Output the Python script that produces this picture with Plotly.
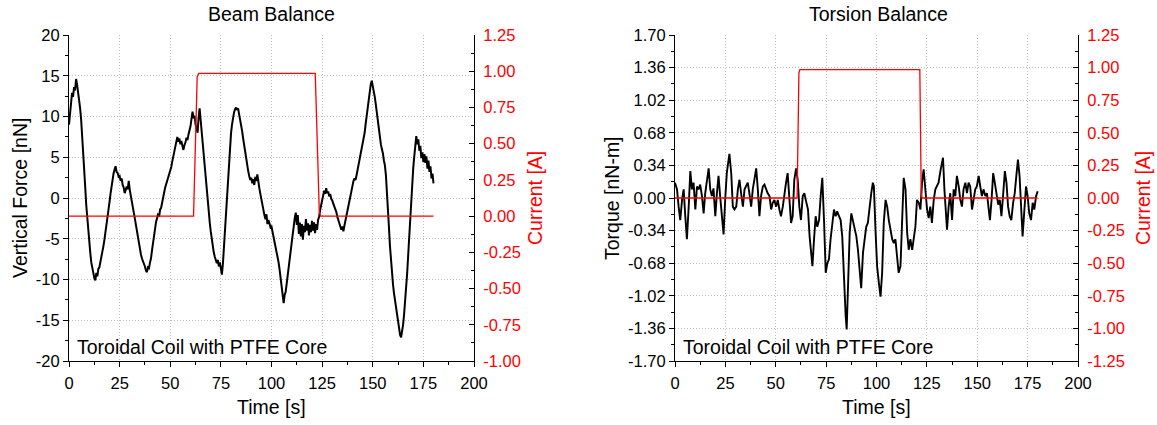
import numpy as np
import plotly.graph_objects as go

# ---------------- data ----------------
# Beam balance: vertical force [nN], sampled every 0.5 s from 0 to 180 s
beam_time = np.arange(0, 180.5, 0.5)
beam_force = [
    9.0, 10.6, 11.8, 12.9, 12.4, 13.6, 13.2, 14.6, 13.9, 13.1,
    12.0, 11.0, 9.6, 7.8, 5.8, 3.6, 1.4, -0.8, -2.6, -4.1,
    -5.4, -6.7, -7.9, -8.6, -9.4, -9.8, -10.1, -9.2, -9.6, -8.7,
    -8.5, -7.9, -7.4, -6.6, -5.9, -5.1, -4.3, -3.4, -2.5, -1.5,
    -0.5, 0.5, 1.5, 2.3, 3.0, 3.5, 3.9, 3.2, 3.1, 2.6,
    2.7, 2.1, 2.4, 1.6, 1.3, 0.6, 0.9, 1.4, 1.1, 2.1,
    1.0, 0.4, -0.6, -1.1, -1.8, -2.5, -3.3, -4.0, -4.8, -5.5,
    -6.2, -6.9, -7.4, -7.7, -8.2, -8.4, -8.9, -9.1, -8.5, -8.6,
    -7.9, -7.4, -6.4, -5.5, -4.4, -3.8, -2.9, -2.5, -1.9, -2.3,
    -1.4, -1.2, -0.4, 0.2, 0.7, 1.3, 1.7, 2.2, 2.6, 3.0,
    3.4, 3.8, 4.5, 5.1, 5.7, 6.2, 6.8, 7.5, 6.9, 7.3,
    6.6, 7.0, 6.4, 5.9, 6.5, 6.8, 7.4, 7.1, 7.8, 8.3,
    8.8, 9.7, 10.6, 9.8, 10.1, 9.0, 8.4, 8.0, 9.9, 11.0,
    9.6, 8.1, 6.8, 5.4, 3.8, 2.4, 1.0, -0.3, -1.6, -3.0,
    -4.1, -5.2, -6.0, -6.7, -7.2, -7.7, -8.0, -7.6, -8.4, -7.9,
    -8.8, -9.4, -8.1, -6.0, -4.2, -1.8, 0.6, 2.8, 4.6, 6.2,
    7.9, 9.0, 9.9, 10.5, 10.9, 11.1, 10.8, 11.0, 10.3, 9.7,
    9.0, 8.2, 7.3, 6.4, 5.5, 4.8, 4.1, 3.3, 2.7, 2.2,
    2.5, 1.8, 2.3, 1.6, 2.6, 2.1, 2.9, 1.7, 1.2, 0.5,
    -0.3, -1.1, -1.8, -2.1, -2.6, -2.0, -3.2, -2.7, -3.1, -3.6,
    -3.5, -4.1, -4.6, -5.1, -5.8, -6.4, -7.2, -7.9, -8.8, -9.7,
    -10.9, -11.6, -12.9, -11.9, -11.5, -10.5, -9.4, -8.4, -7.6, -6.5,
    -5.3, -4.2, -3.5, -2.4, -1.8, -3.3, -2.1, -4.4, -3.0, -4.7,
    -3.2, -5.1, -3.4, -4.2, -2.6, -4.0, -3.1, -4.6, -3.3, -4.2,
    -2.8, -4.0, -3.0, -4.3, -3.2, -3.9, -2.7, -2.3, -1.5, -0.8,
    -0.2, 0.4, 0.9, 0.5, 1.2, 0.6, 0.8, 0.2, 0.5, -0.1,
    -0.3, -0.7, -1.0, -1.5, -1.7, -2.3, -2.7, -3.1, -3.3, -3.9,
    -3.5, -4.1, -3.4, -2.8, -2.2, -1.4, -0.7, 0.0, 0.6, 1.2,
    1.7, 2.1, 2.4, 2.2, 2.8, 3.4, 4.0, 4.6, 5.3, 5.8,
    6.4, 7.1, 8.0, 9.1, 10.2, 11.3, 12.4, 13.3, 13.9, 14.4,
    13.8, 13.1, 12.4, 11.5, 10.4, 9.3, 8.3, 7.5, 6.6, 6.0,
    5.5, 4.6, 4.0, 2.8, 1.0, -1.2, -3.6, -5.9, -7.8, -9.3,
    -10.6, -11.7, -12.6, -13.6, -14.6, -15.5, -16.2, -16.8, -17.1, -16.4,
    -15.5, -14.2, -12.7, -11.1, -9.2, -7.0, -4.6, -2.2, 0.3, 2.2,
    3.7, 5.1, 6.2, 7.6, 6.6, 7.2, 5.8, 6.4, 4.9, 5.6,
    4.4, 5.4, 4.3, 5.1, 3.6, 4.6, 3.2, 3.9, 2.4, 3.0,
    1.8,
]

# Coil current during the beam balance run [A]
beam_current_time = [0, 61.5, 63.3, 64.0, 121.6, 123.6, 124.2, 180]
beam_current = [0.0, 0.0, 0.96, 0.985, 0.985, 0.03, 0.0, 0.0]

# Torsion balance: torque [nN-m]
torsion_time = [
    0.0, 1.0, 1.8, 2.6, 3.5, 4.3, 5.1, 5.9, 6.8, 7.6, 8.4, 9.2, 10.1, 10.9,
    11.7, 12.5, 13.4, 14.2, 15.0, 15.8, 16.7, 17.5, 18.3, 19.1, 20.0, 20.8,
    21.6, 22.4, 23.3, 24.1, 24.9, 25.7, 26.6, 27.0, 27.9, 28.7, 29.5, 30.4,
    31.2, 32.0, 32.8, 33.7, 34.5, 35.3, 36.1, 36.9, 37.8, 38.6, 39.4, 40.3,
    41.1, 41.9, 42.7, 43.6, 44.4, 45.2, 46.0, 46.9, 47.7, 48.5, 49.3, 50.2,
    51.0, 51.8, 52.6, 53.5, 54.3, 55.1, 55.9, 56.8, 57.6, 58.4, 59.2, 60.1,
    60.9, 61.7, 62.5, 63.4, 64.2, 65.0, 66.0, 66.8, 67.7, 68.2, 69.0, 69.8,
    70.6, 71.5, 72.3, 73.1, 74.0, 74.8, 75.6, 76.4, 77.2, 78.1, 78.9, 79.7,
    80.5, 81.4, 82.2, 83.0, 83.8, 84.7, 85.2, 85.9, 86.7, 87.5, 88.4, 89.2,
    90.0, 90.8, 91.6, 92.4, 93.3, 94.1, 94.9, 95.7, 96.5, 97.4, 98.2, 98.7,
    99.5, 100.3, 101.2, 102.0, 102.8, 103.6, 104.5, 105.3, 106.1, 106.9,
    107.8, 108.6, 109.4, 110.2, 111.0, 111.9, 112.7, 113.5, 114.4, 115.2,
    116.0, 116.8, 117.7, 118.5, 119.3, 120.1, 121.0, 121.8, 122.6, 123.4,
    124.3, 125.1, 125.9, 126.7, 127.5, 128.4, 129.2, 130.0, 130.8, 131.7,
    132.4, 133.0, 133.7, 134.5, 135.0, 135.8, 136.6, 137.5, 138.3, 139.1,
    139.9, 140.8, 141.6, 142.4, 143.2, 144.1, 144.9, 145.7, 146.5, 147.4,
    148.2, 149.0, 149.8, 150.7, 151.5, 152.3, 153.1, 154.0, 154.8, 155.6,
    156.3, 157.1, 157.9, 158.7, 159.6, 160.4, 161.2, 162.0, 162.9, 163.7,
    164.5, 165.3, 166.1, 166.9, 167.8, 168.6, 169.4, 170.2, 171.0, 171.9,
    172.5, 173.4, 174.2, 175.0, 175.8, 176.7, 177.5, 178.3, 179.2, 180.0,
]
torsion_torque = [
    0.16, 0.09, -0.09, -0.23, -0.02, 0.09, -0.19, -0.43, -0.09, 0.28, 0.09, 0.16, -0.12, 0.12,
    0.09, 0.14, 0.02, -0.16, 0.05, 0.19, 0.31, 0.09, 0.02, 0.10, -0.19, 0.05,
    0.23, 0.02, -0.19, -0.38, -0.02, 0.26, 0.40, 0.46, 0.26, -0.09, -0.12, -0.09,
    0.09, 0.19, 0.05, -0.09, 0.09, 0.12, 0.16, 0.05, -0.09, 0.09, 0.19, 0.31,
    0.09, -0.19, 0.02, 0.12, 0.14, 0.09, 0.05, 0.02, -0.12, -0.05, -0.02, -0.09,
    -0.02, -0.12, -0.19, -0.09, 0.05, 0.16, 0.26, 0.02, -0.26, -0.19, 0.19, 0.31,
    0.19, -0.09, -0.23, 0.02, 0.05, -0.03, -0.12, -0.40, -0.61, -0.71, -0.43, -0.19,
    -0.30, -0.23, 0.02, 0.21, -0.26, -0.78, -0.68, -0.64, -0.43, -0.26, -0.12, -0.19,
    -0.14, -0.19, -0.23, -0.40, -0.85, -1.23, -1.37, -0.89, -0.36, -0.16, -0.26, -0.33,
    -0.40, -0.54, -0.78, -0.94, -0.57, -0.40, -0.30, -0.26, -0.09, 0.05, 0.16, 0.12,
    -0.33, -0.71, -0.89, -1.03, -0.78, -0.26, -0.02, -0.09, -0.23, -0.33,
    -0.43, -0.47, -0.43, -0.61, -0.78, -0.71, -0.26, 0.21, 0.09, -0.36,
    -0.54, -0.43, -0.54, -0.40, -0.30, -0.02, -0.05, -0.12, 0.16, 0.30,
    0.09, -0.12, -0.21, -0.09, -0.26, -0.02, 0.09, 0.12, 0.16, 0.28,
    0.36, 0.42, 0.09, -0.26, -0.33, -0.09, 0.05, -0.23, 0.09, 0.02,
    0.23, 0.12, -0.02, -0.09, 0.09, 0.16, 0.05, 0.16, 0.12, -0.12,
    -0.02, 0.09, 0.12, 0.23, 0.12, 0.02, 0.09, 0.02, 0.05, -0.09,
    -0.23, -0.02, 0.26, 0.16, 0.02, -0.07, -0.02, -0.19, 0.05, 0.28,
    0.16, -0.09, -0.19, -0.23, -0.05, 0.05, 0.23, 0.40, 0.23, -0.09,
    -0.40, -0.12, 0.12, 0.02, -0.16, -0.23, -0.05, -0.12, 0.02, 0.07,
]

# Coil current during the torsion balance run [A]
torsion_current_time = [0, 60.6, 61.5, 62.0, 121.5, 122.2, 122.6, 180]
torsion_current = [0.0, 0.0, 0.96, 0.985, 0.985, 0.03, 0.0, 0.0]

# Tick values and labels
time_ticks = [0, 25, 50, 75, 100, 125, 150, 175, 200]
time_labels = ["0", "25", "50", "75", "100", "125", "150", "175", "200"]
force_ticks = [20, 15, 10, 5, 0, -5, -10, -15, -20]
force_labels = ["20", "15", "10", "5", "0", "-5", "-10", "-15", "-20"]
beam_cur_ticks = [1.25, 1.0, 0.75, 0.5, 0.25, 0.0, -0.25, -0.5, -0.75, -1.0]
beam_cur_labels = ["1.25", "1.00", "0.75", "0.50", "0.25", "0.00",
                   "-0.25", "-0.50", "-0.75", "-1.00"]
torque_ticks = [1.70, 1.36, 1.02, 0.68, 0.34, 0.0, -0.34, -0.68, -1.02, -1.36, -1.70]
torque_labels = ["1.70", "1.36", "1.02", "0.68", "0.34", "0.00",
                 "-0.34", "-0.68", "-1.02", "-1.36", "-1.70"]
tors_cur_ticks = [1.25, 1.0, 0.75, 0.5, 0.25, 0.0, -0.25, -0.5, -0.75, -1.0, -1.25]
tors_cur_labels = ["1.25", "1.00", "0.75", "0.50", "0.25", "0.00",
                   "-0.25", "-0.50", "-0.75", "-1.00", "-1.25"]

# ---------------- figure ----------------
W, H = 1157, 425
TOP, BOTTOM = 35, 361          # pixel rows of the plot area
FONT = "Liberation Sans, Arial, sans-serif"
RED = "#ff0000"
GRID = "#bdbdbd"

left_dom = [69 / W, 474 / W]
right_dom = [675 / W, 1078 / W]

fig = go.Figure()

fig.add_trace(go.Scatter(x=beam_time, y=beam_force, mode="lines",
                         line=dict(color="black", width=2.0),
                         xaxis="x", yaxis="y", showlegend=False))
fig.add_trace(go.Scatter(x=beam_current_time, y=beam_current, mode="lines",
                         line=dict(color=RED, width=1.3),
                         xaxis="x", yaxis="y2", showlegend=False))
fig.add_trace(go.Scatter(x=torsion_time, y=torsion_torque, mode="lines",
                         line=dict(color="black", width=1.9),
                         xaxis="x2", yaxis="y3", showlegend=False))
fig.add_trace(go.Scatter(x=torsion_current_time, y=torsion_current, mode="lines",
                         line=dict(color=RED, width=1.3),
                         xaxis="x2", yaxis="y4", showlegend=False))

tickfont = dict(family=FONT, size=16.5, color="black")
redfont = dict(family=FONT, size=16.5, color=RED)
GRIDDASH = "1px,2px"


def bottom_axis(domain, anchor):
    return dict(domain=domain, anchor=anchor, range=[0, 200],
                tickvals=time_ticks, ticktext=time_labels,
                ticks="outside", ticklen=5, tickwidth=1, tickcolor="black",
                minor=dict(dtick=12.5, tick0=0, ticks="outside", ticklen=3,
                           tickcolor="black", showgrid=False),
                showline=True, linecolor="black", linewidth=1,
                showgrid=True, gridcolor=GRID, griddash=GRIDDASH, gridwidth=1,
                zeroline=False, tickfont=tickfont, ticklabelstandoff=2,
                fixedrange=True)


def top_axis(overlay, anchor):
    return dict(overlaying=overlay, anchor=anchor, side="top", range=[0, 200],
                tickvals=time_ticks, showticklabels=False,
                ticks="inside", ticklen=5, tickcolor="black",
                minor=dict(dtick=12.5, tick0=0, ticks="inside", ticklen=3,
                           tickcolor="black", showgrid=False),
                showline=True, linecolor="black", linewidth=1,
                showgrid=False, zeroline=False, fixedrange=True)


def left_axis(anchor, rng, tv, tt, minor_dt):
    return dict(anchor=anchor, range=rng, tickvals=tv, ticktext=tt,
                ticks="outside", ticklen=5, tickcolor="black",
                minor=dict(dtick=minor_dt, tick0=0, ticks="outside", ticklen=3,
                           tickcolor="black", showgrid=False),
                showline=True, linecolor="black", linewidth=1,
                showgrid=True, gridcolor=GRID, griddash=GRIDDASH, gridwidth=1,
                zeroline=False, tickfont=tickfont, fixedrange=True)


def right_axis(overlay, anchor, rng, tv, tt):
    return dict(overlaying=overlay, anchor=anchor, side="right", range=rng,
                tickvals=tv, ticktext=tt,
                ticks="inside", ticklen=5, tickcolor="black",
                minor=dict(dtick=0.125, tick0=0, ticks="inside", ticklen=3,
                           tickcolor="black", showgrid=False),
                showline=True, linecolor="black", linewidth=1,
                showgrid=False, zeroline=False, tickfont=redfont,
                ticklabelstandoff=5, fixedrange=True)


fig.update_layout(
    width=W, height=H, autosize=False,
    margin=dict(l=0, r=0, t=TOP, b=H - BOTTOM, pad=0, autoexpand=False),
    paper_bgcolor="white", plot_bgcolor="white",
    font=dict(family=FONT, color="black"),
    xaxis=bottom_axis(left_dom, "y"),
    xaxis3=top_axis("x", "y"),
    yaxis=left_axis("x", [-20, 20], force_ticks, force_labels, 2.5),
    yaxis2=right_axis("y", "x", [-1.0, 1.25], beam_cur_ticks, beam_cur_labels),
    xaxis2=bottom_axis(right_dom, "y3"),
    xaxis4=top_axis("x2", "y3"),
    yaxis3=left_axis("x2", [-1.70, 1.70], torque_ticks, torque_labels, 0.17),
    yaxis4=right_axis("y3", "x2", [-1.25, 1.25], tors_cur_ticks, tors_cur_labels),
)


# paper coordinates span the plot-area rows (margins l=r=0, so x spans the page)
def px(x):
    return x / W


def py(y):
    return (BOTTOM - y) / (BOTTOM - TOP)


title_font = dict(family=FONT, size=19.5, color="black")
red_title = dict(family=FONT, size=19.5, color=RED)
annotations = [
    dict(text="Beam Balance", x=px(271.5), y=py(14)),
    dict(text="Torsion Balance", x=px(878), y=py(14)),
    dict(text="Time [s]", x=px(271.5), y=py(407)),
    dict(text="Time [s]", x=px(876.5), y=py(407)),
    dict(text="Vertical Force [nN]", x=px(20), y=py(198), textangle=-90),
    dict(text="Torque [nN-m]", x=px(612), y=py(198), textangle=-90),
    dict(text="Current [A]", x=px(535), y=py(198), textangle=-90, font=red_title),
    dict(text="Current [A]", x=px(1143), y=py(198), textangle=-90, font=red_title),
    dict(text="Toroidal Coil with PTFE Core", x=px(75), y=py(347), xanchor="left"),
    dict(text="Toroidal Coil with PTFE Core", x=px(681), y=py(347), xanchor="left"),
]
for a in annotations:
    a.setdefault("xanchor", "center")
    a.setdefault("yanchor", "middle")
    a.setdefault("font", title_font)
    fig.add_annotation(xref="paper", yref="paper", showarrow=False, **a)

fig.write_html(
    "out.html",
    config={"displayModeBar": False, "responsive": False},
    post_script=("document.documentElement.style.overflow='hidden';"
                 "document.body.style.overflow='hidden';"
                 "document.body.style.margin='0';"),
)
